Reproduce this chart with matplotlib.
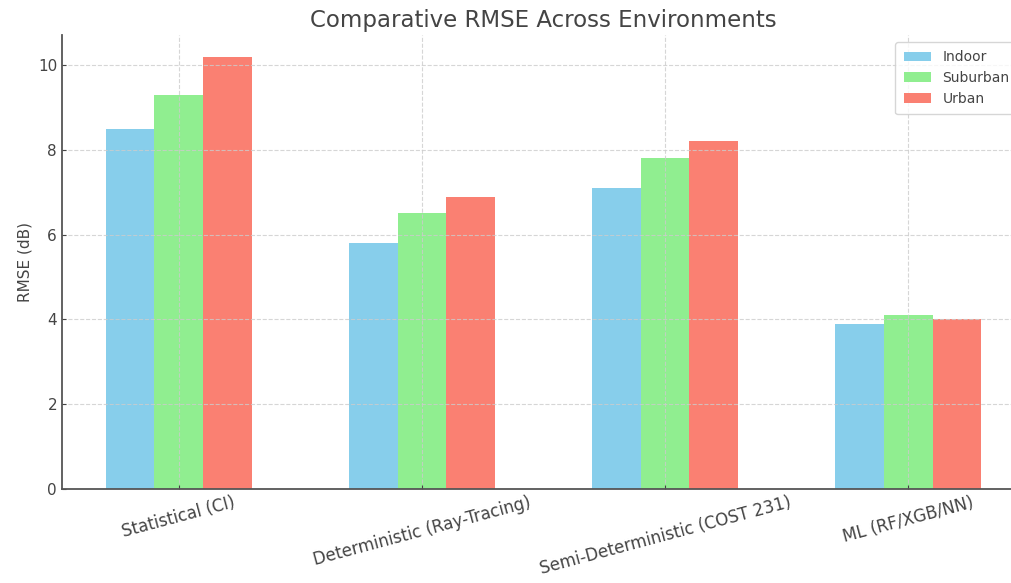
import numpy as np
import matplotlib
matplotlib.use("Agg")
import matplotlib.pyplot as plt

# data
methods = ["Statistical (CI)", "Deterministic (Ray-Tracing)",
           "Semi-Deterministic (COST 231)", "ML (RF/XGB/NN)"]
indoor = [8.5, 5.8, 7.1, 3.9]
suburban = [9.3, 6.5, 7.8, 4.1]
urban = [10.2, 6.9, 8.2, 4.0]

text_col = "#444444"
plt.rcParams["text.color"] = text_col
plt.rcParams["axes.labelcolor"] = text_col
plt.rcParams["xtick.color"] = text_col
plt.rcParams["ytick.color"] = text_col

fig = plt.figure(figsize=(10.11, 5.83), dpi=100)
# axes runs past the right edge, like the cropped reference
ax = fig.add_axes([0.0613, 0.1612, 0.9525, 0.7788])

x = np.arange(len(methods))
w = 0.2
ax.bar(x - w, indoor, w, label="Indoor", color="skyblue")
ax.bar(x, suburban, w, label="Suburban", color="lightgreen")
ax.bar(x + w, urban, w, label="Urban", color="salmon")

ax.set_title("Comparative RMSE Across Environments", fontsize=16.5, color=text_col)
ax.set_ylabel("RMSE (dB)", fontsize=11)
ax.set_xticks(x)
ax.set_xticklabels(methods, rotation=15, fontsize=12)
ax.tick_params(axis="y", labelsize=11)
ax.tick_params(direction="in", length=3)

ax.grid(True, linestyle="--", color="#cccccc", alpha=0.8)
for s in ["top", "right"]:
    ax.spines[s].set_visible(False)
for s in ["left", "bottom"]:
    ax.spines[s].set_color("#555555")
    ax.spines[s].set_linewidth(1.3)

ax.legend(loc="upper right", fontsize=10, borderpad=0.6)

fig.savefig("out.png", dpi=100)
